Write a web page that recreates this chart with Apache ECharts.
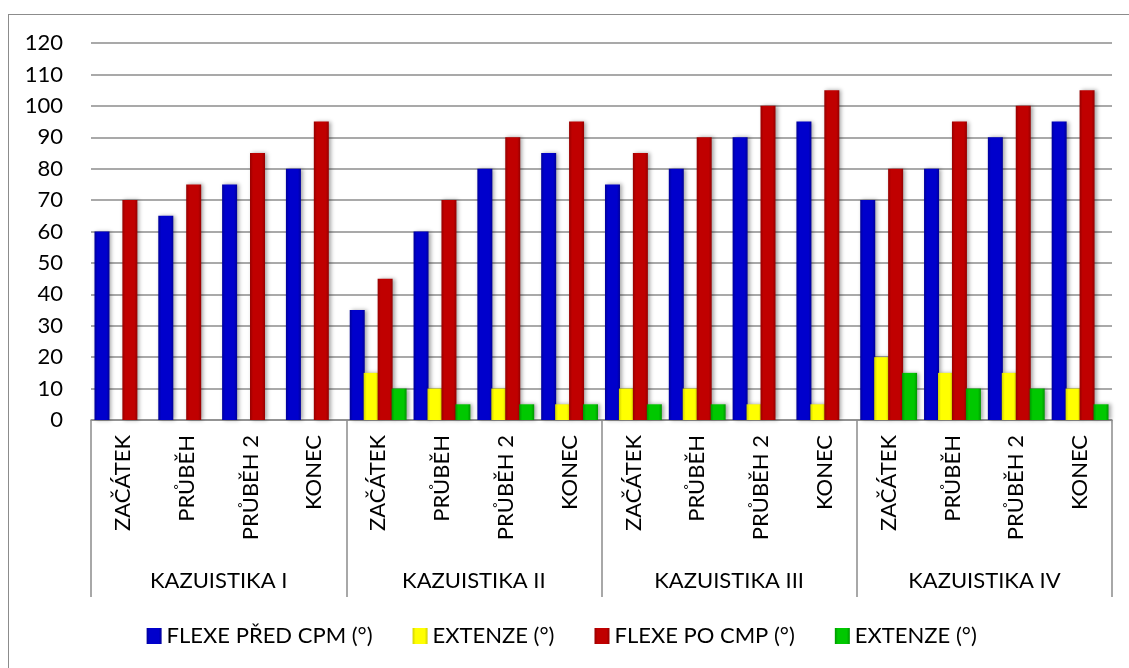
<!DOCTYPE html>
<html>
<head>
<meta charset="utf-8">
<script src="https://cdn.jsdelivr.net/npm/echarts@6/dist/echarts.min.js"></script>
<style>
  html, body { margin: 0; padding: 0; background: #fff; }
  #chart { width: 1129px; height: 668px; }
  #frame { position: absolute; left: 8px; top: 14px; width: 1140px; height: 700px; border: 1px solid #8c8c8c; box-sizing: border-box; pointer-events: none; }
</style>
</head>
<body>
<div id="chart"></div>
<div id="frame"></div>
<script>
// Phases measured in each case study
const phases = ['ZAČÁTEK', 'PRŮBĚH', 'PRŮBĚH 2', 'KONEC'];
const groups = ['KAZUISTIKA I', 'KAZUISTIKA II', 'KAZUISTIKA III', 'KAZUISTIKA IV'];

// Range of motion (degrees), one value per phase, groups in order I..IV
const flexePredCpm = [60, 65, 75, 80,  35, 60, 80, 85,  75, 80, 90, 95,  70, 80, 90, 95];
const extenze1     = [0, 0, 0, 0,      15, 10, 10, 5,   10, 10, 5, 5,    20, 15, 15, 10];
const flexePoCmp   = [70, 75, 85, 95,  45, 70, 90, 95,  85, 90, 100, 105, 80, 95, 100, 105];
const extenze2     = [0, 0, 0, 0,      10, 5, 5, 5,     5, 5, 0, 0,      15, 10, 10, 5];

const yTicks = { min: 0, max: 120, step: 10 };

const seriesNames = ['FLEXE PŘED CPM (°)', 'EXTENZE (°)', 'FLEXE PO CMP (°)', 'EXTENZE (°) '];

const categories = [];
groups.forEach(() => phases.forEach(p => categories.push(p)));

function bevel(edge, mid) {
  return {
    type: 'linear', x: 0, y: 0, x2: 1, y2: 0,
    colorStops: [
      { offset: 0, color: edge },
      { offset: 0.2, color: mid },
      { offset: 0.8, color: mid },
      { offset: 1, color: edge }
    ]
  };
}

const palettes = [
  { edge: '#00009a', mid: '#0000cc' },
  { edge: '#d0d000', mid: '#ffff00' },
  { edge: '#960000', mid: '#c00000' },
  { edge: '#009600', mid: '#00c800' }
];

const font = 'Lato, "Open Sans", sans-serif';

function barSeries(name, data, pal) {
  return {
    name: name,
    type: 'bar',
    data: data,
    barWidth: 15,
    barGap: '-7%',
    itemStyle: {
      color: bevel(pal.edge, pal.mid),
      shadowColor: 'rgba(0,0,0,0.35)',
      shadowBlur: 4,
      shadowOffsetX: 2,
      shadowOffsetY: 0
    }
  };
}

const chart = echarts.init(document.getElementById('chart'), null, { renderer: 'canvas' });
chart.setOption({
  animation: false,
  backgroundColor: '#fff',
  color: palettes.map(p => p.mid),
  grid: { left: 91, right: 17, top: 43, bottom: 248, containLabel: false },
  legend: {
    top: 620,
    left: 'center',
    itemWidth: 15,
    itemHeight: 16,
    itemGap: 40,
    icon: 'rect',
    textStyle: { fontFamily: font, fontSize: 22, color: '#000' },
    data: seriesNames.map((n, i) => ({ name: n, itemStyle: { color: bevel(palettes[i].edge, palettes[i].mid) } }))
  },
  xAxis: [
    {
      type: 'category',
      data: categories,
      position: 'bottom',
      axisLine: { show: true, lineStyle: { color: '#8c8c8c', width: 1.5 } },
      axisTick: { show: false },
      axisLabel: { rotate: 90, interval: 0, margin: 15, fontFamily: font, fontSize: 22, color: '#000' }
    },
    {
      type: 'category',
      data: groups,
      position: 'bottom',
      axisLine: { show: false },
      axisTick: { show: true, length: 177, lineStyle: { color: '#8c8c8c', width: 1.5 } },
      axisLabel: { interval: 0, margin: 150, fontFamily: font, fontSize: 22, color: '#000' }
    }
  ],
  yAxis: {
    type: 'value',
    min: yTicks.min,
    max: yTicks.max,
    interval: yTicks.step,
    axisLine: { show: false },
    axisTick: { show: false },
    axisLabel: { margin: 28, fontFamily: font, fontSize: 22, color: '#000' },
    splitLine: { lineStyle: { color: '#8c8c8c', width: 1.5 } }
  },
  series: [
    barSeries(seriesNames[0], flexePredCpm, palettes[0]),
    barSeries(seriesNames[1], extenze1, palettes[1]),
    barSeries(seriesNames[2], flexePoCmp, palettes[2]),
    barSeries(seriesNames[3], extenze2, palettes[3])
  ]
});
</script>
</body>
</html>
